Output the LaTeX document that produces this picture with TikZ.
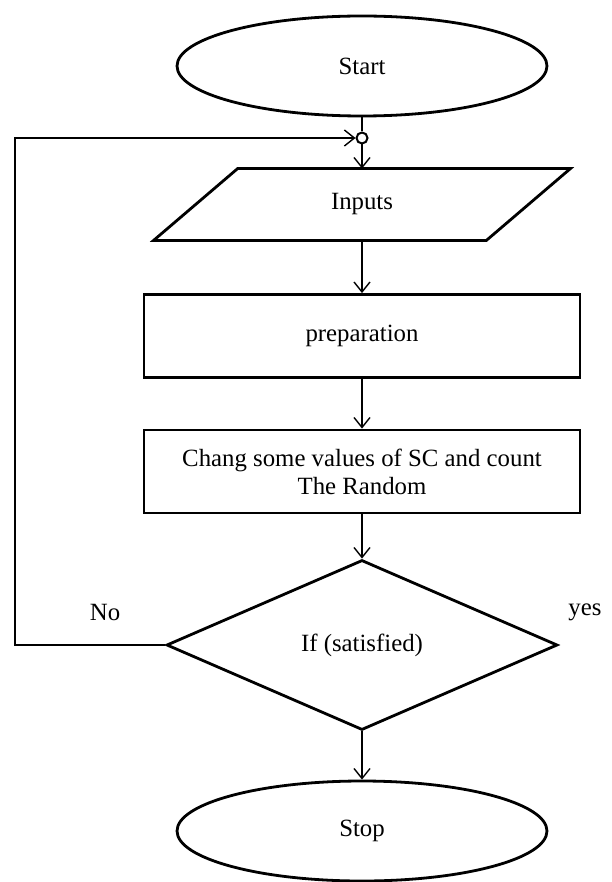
\documentclass[tikz,border=0pt]{standalone}
\usepackage{fontspec}
\setmainfont{Liberation Serif}
\usetikzlibrary{shapes.geometric,arrows.meta}

\tikzset{
  terminal/.style={draw,ellipse,line width=1.4pt,inner sep=0pt,minimum width=185pt,minimum height=50pt},
  process/.style={draw,rectangle,line width=1.4pt,inner sep=0pt,minimum width=218pt,minimum height=41.5pt,align=center},
  decision/.style={draw,diamond,line width=1.4pt,inner sep=0pt,minimum width=195.5pt,minimum height=85pt},
  flow/.style={line width=0.7pt,>={Straight Barb[length=5pt,width=8pt]}},
}

\begin{document}
\begin{tikzpicture}[x=0.5pt,y=-0.5pt,font=\fontsize{12.4}{14}\selectfont]
\useasboundingbox (0,0) rectangle (611,882);

% terminals
  \node[terminal] (start) at (362,66)  {Start};
  \node[terminal] (stop)  at (362,831) {Stop};

% small circle where the loop comes back in
  \node[draw,circle,line width=1pt,inner sep=0pt,minimum size=5.5pt] (join) at (362,138) {};

% input parallelogram (text node, outline drawn from its corners)
  \node[inner sep=0pt,minimum width=166pt,minimum height=35.5pt] (inputs) at (362,204.5) {Inputs};
  \draw[line width=1.4pt] ([xshift=21pt]inputs.north west) -- ([xshift=21pt]inputs.north east)
     -- ([xshift=-21pt]inputs.south east) -- ([xshift=-21pt]inputs.south west) -- cycle;

% process boxes
  \node[process] (prep)  at (362,336)   {preparation};
  \node[process] (chang) at (362,471.5) {Chang some values of SC and count\\The Random};

% decision with its two labels
  \node[decision] (cond) at (362,645) {If (satisfied)};
  \node (no)  at (105,612) {No};
  \node (yes) at (585,612) {yes};

% connectors
  \coordinate (loop) at (15,138);
  \draw[flow]    (start) -- (join);
  \draw[flow,->] (join)  -- (inputs);
  \draw[flow,->] (inputs) -- (prep);
  \draw[flow,->] (prep)  -- (chang);
  \draw[flow,->] (chang) -- (cond);
  \draw[flow,->] (cond)  -- (stop);
  \draw[flow,->] (cond.west) -| (loop) -- (join);

\end{tikzpicture}
\end{document}
